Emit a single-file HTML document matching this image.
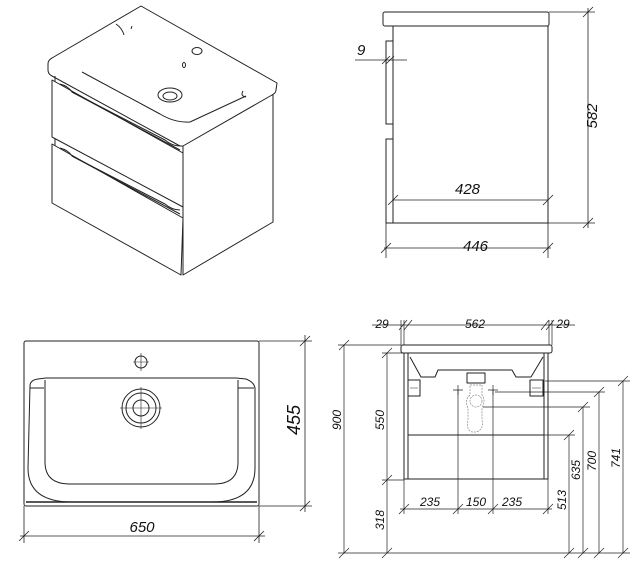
<!DOCTYPE html>
<html><head><meta charset="utf-8"><style>
html,body{margin:0;padding:0;background:#fff}
svg{display:block}
text{font-family:"Liberation Sans",sans-serif;font-style:italic;fill:#111}
</style></head><body>
<svg width="636" height="571" viewBox="0 0 636 571" xmlns="http://www.w3.org/2000/svg">
<g fill="none" stroke="#222" stroke-width="1" stroke-linejoin="round">
<!-- Isometric view -->
<path d="M141,6 L277,83 L276,90 Q276,93 272,95 L183,146 L180,146 L52,76 Q48,74 48,70 L48,64 Q48,60 52,58 Z"/>
<path d="M82,72 L160,114 Q175,123 190,122 L246,96"/>
<path d="M243,91 Q240,96 246,97"/>
<path d="M116,24 Q122,28 124,35 M132,26 L131,29"/>
<ellipse cx="197" cy="51" rx="5" ry="3.5"/>
<ellipse cx="184" cy="65" rx="1.5" ry="2.5"/>
<ellipse cx="170" cy="95" rx="12" ry="7"/>
<ellipse cx="170" cy="96" rx="7" ry="4"/>
<path d="M183,146 L183,275 L273,222 L273,95"/>
<path d="M52,80 L52,137 L183,207 L183,153 Z"/>
<path d="M55,76 L55,82 M60,84 Q68,86 72,92 L165,140 Q172,146 180,146"/>
<path d="M72,92 L180,150"/>
<path d="M52,144 L52,203 L181,275 L183,218 Z"/>
<path d="M55,139 L55,146 M60,148 Q68,150 72,156 L165,204 Q172,210 180,210"/>
<path d="M72,156 L180,214"/>

<!-- Side view -->
<rect x="383" y="12" width="166" height="14" rx="2"/>
<rect x="393" y="26" width="155" height="197"/>
<rect x="386" y="41" width="7" height="83"/>
<rect x="386" y="139" width="7" height="84"/>
<g stroke-width="0.8">
<path d="M355,60 L407,60 M382,64 L390,56 M386,64 L394,56"/>
<path d="M549,12 L595,12 M548,223 L595,223 M588,8 L588,228 M583,17 L593,7 M583,228 L593,218"/>
<path d="M393,200 L548,200 M388,205 L398,195 M543,205 L553,195"/>
<path d="M386,223 L386,258 M548,223 L548,258 M384,248 L551,248 M381,253 L391,243 M543,253 L553,243"/>
</g>

<!-- Top view -->
<rect x="24" y="341" width="235" height="165" rx="2"/>
<path d="M26,502 L257,502" stroke-width="1.5"/>
<path d="M30,386 Q30,380 38,379 L46,378 L236,378 L246,379 Q254,382 255,388 L255,468 Q255,502 212,502 L72,502 Q28,502 28,468 Z"/>
<path d="M45,380 L45,462 Q45,484 70,484 L214,484 Q238,484 238,462 L238,380"/>
<path d="M30,388 L44,388 M238,388 L254,388"/>
<circle cx="141" cy="362" r="6"/>
<circle cx="141" cy="408" r="19"/>
<circle cx="141" cy="408" r="15"/>
<circle cx="141" cy="408" r="8"/>
<g stroke-width="0.6"><path d="M133,362 L149,362 M141,353 L141,371 M120,408 L162,408 M141,387 L141,429"/></g>
<g stroke-width="0.8">
<path d="M259,341 L312,341 M259,506 L312,506 M305,335 L305,512 M300,346 L310,336 M300,511 L310,501"/>
<path d="M24,506 L24,543 M259,506 L259,543 M20,536 L265,536 M19,541 L29,531 M254,541 L264,531"/>
</g>

<!-- Front view -->
<rect x="401" y="345" width="151" height="8" rx="2"/>
<rect x="404" y="353" width="144" height="126"/>
<path d="M408,353 L408,479 M544,353 L544,479 M408,435 L544,435"/>
<path d="M410,357 L421,377 L435,377 L438,370 L512,370 L516,377 L531,377 L543,357"/>
<rect x="467" y="373" width="18" height="10"/>
<rect x="408" y="380" width="12" height="16"/><rect x="530" y="380" width="13" height="16"/>
<path d="M410,388 L418,388 M532,388 L541,388" stroke-width="0.6"/>
<g stroke="#888" stroke-width="0.7" stroke-dasharray="2,1">
<path d="M470,385 L482,385 L482,395 Q486,400 482,408 L482,420 Q484,430 476,432 L472,432 Q466,430 468,420 L468,408 Q464,400 470,395 Z"/>
<circle cx="476" cy="401" r="6"/>
</g>
<g stroke-width="0.7">
<path d="M453,390 L463,390 M458,385 L458,395 M488,390 L498,390 M493,385 L493,395"/>
<path d="M458,390 L458,514 M493,390 L493,514"/>
<path d="M404,479 L404,514 M548,479 L548,514 M400,509 L552,509 M399,514 L409,504 M453,514 L463,504 M488,514 L498,504 M543,514 L553,504"/>
<path d="M401,345 L401,320 M404,345 L404,320 M549,345 L549,320 M552,345 L552,320 M372,325 L575,325 M399,330 L407,320 M404,330 L412,320 M541,330 L549,320 M546,330 L554,320"/>
<path d="M338,345 L401,345 M338,553 L630,553 M344,345 L344,553 M339,350 L349,340 M339,558 L349,548"/>
<path d="M382,353 L404,353 M382,480 L404,480 M387,353 L387,553 M382,358 L392,348 M382,485 L392,475 M382,558 L392,548"/>
<path d="M545,381 L630,381 M495,392 L605,392 M483,407 L590,407 M408,435 L575,435"/>
<path d="M569,435 L569,553 M583,407 L583,553 M599,392 L599,553 M623,381 L623,553"/>
<path d="M564,440 L574,430 M564,558 L574,548 M578,412 L588,402 M578,558 L588,548 M594,397 L604,387 M594,558 L604,548 M618,386 L628,376 M618,558 L628,548"/>
</g>
</g>
<g font-size="15">
<text x="357" y="55">9</text>
<text x="455" y="194">428</text>
<text x="463" y="251">446</text>
<text transform="translate(597,116) rotate(-90)" text-anchor="middle">582</text>
<text x="142" y="532" text-anchor="middle">650</text>
<text transform="translate(300,420) rotate(-90)" text-anchor="middle" font-size="18">455</text>
</g>
<g font-size="12">
<text x="382" y="328" text-anchor="middle">29</text>
<text x="475" y="328" text-anchor="middle">562</text>
<text x="563" y="328" text-anchor="middle">29</text>
<text x="430" y="506" text-anchor="middle">235</text>
<text x="476" y="506" text-anchor="middle">150</text>
<text x="512" y="506" text-anchor="middle">235</text>
<text transform="translate(341,420) rotate(-90)" text-anchor="middle">900</text>
<text transform="translate(384,420) rotate(-90)" text-anchor="middle">550</text>
<text transform="translate(384,520) rotate(-90)" text-anchor="middle">318</text>
<text transform="translate(566,500) rotate(-90)" text-anchor="middle">513</text>
<text transform="translate(580,470) rotate(-90)" text-anchor="middle">635</text>
<text transform="translate(596,461) rotate(-90)" text-anchor="middle">700</text>
<text transform="translate(620,458) rotate(-90)" text-anchor="middle">741</text>
</g>
</svg>
</body></html>
